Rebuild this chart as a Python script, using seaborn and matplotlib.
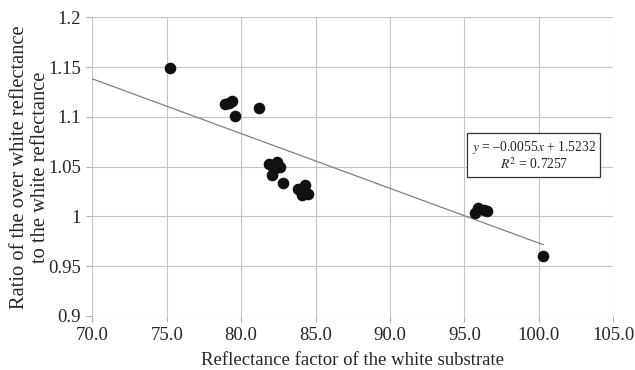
import matplotlib
matplotlib.use("Agg")
import matplotlib.pyplot as plt
import seaborn as sns
import numpy as np
import pandas as pd

reflectance = [75.2, 78.9, 79.2, 79.4, 79.6, 81.2,
               81.9, 82.4, 82.2, 82.6, 82.1, 82.8,
               83.8, 84.3, 84.5, 84.1,
               95.7, 95.9, 96.3, 96.5, 100.3]
ratio = [1.149, 1.113, 1.114, 1.116, 1.101, 1.109,
         1.053, 1.055, 1.048, 1.050, 1.042, 1.034,
         1.028, 1.032, 1.023, 1.022,
         1.003, 1.008, 1.006, 1.005, 0.960]
slope = -0.0055
intercept = 1.5232
r_squared = 0.7257
x_ticks = [70, 75, 80, 85, 90, 95, 100, 105]
y_ticks = [0.9, 0.95, 1.0, 1.05, 1.1, 1.15, 1.2]
y_tick_labels = ["0.9", "0.95", "1", "1.05", "1.1", "1.15", "1.2"]

sns.set_style("white")
plt.rcParams['font.family'] = ['Liberation Serif', 'DejaVu Serif']
plt.rcParams['mathtext.fontset'] = 'stix'

df = pd.DataFrame({"x": reflectance, "y": ratio})

fig = plt.figure(figsize=(6.35, 3.7), dpi=100)
ax = fig.add_axes([92.3/635, 1-316/370, (613.3-92.3)/635, (316-17.3)/370])

ax.set_xlim(70, 105)
ax.set_ylim(0.9, 1.2)
ax.set_xticks(x_ticks)
ax.set_xticklabels([f"{v:.1f}" for v in x_ticks])
ax.set_yticks(y_ticks)
ax.set_yticklabels(y_tick_labels)
ax.grid(True, color="#c4c4c4", linewidth=0.8)
ax.set_axisbelow(True)
for s in ax.spines.values():
    s.set_visible(False)
ax.tick_params(axis="both", length=4, width=0.8, color="#b0b0b0",
               labelsize=13.5, pad=4, direction="out", left=True, bottom=True)

xl = np.array([70, max(reflectance)])
sns.lineplot(x=xl, y=slope*xl+intercept, ax=ax, color="#808080", linewidth=0.9)
sns.scatterplot(data=df, x="x", y="y", ax=ax, s=70, color="#111111",
                edgecolor="#111111", linewidth=0, zorder=3)

ax.set_xlabel("Reflectance factor of the white substrate", fontsize=13.5, labelpad=6)
ax.set_ylabel("Ratio of the over white reflectance\nto the white reflectance",
              fontsize=14.8, linespacing=1.1)
ax.yaxis.label.set_va("center")
ax.yaxis.set_label_coords(-0.1195, 0.497)

ax.text(99.66, 1.061,
        "$y$ = \u20130.0055$x$ + 1.5232\n$R^2$ = 0.7257",
        ha="center", va="center", fontsize=9.8, linespacing=1.05,
        bbox=dict(boxstyle="square,pad=0.3", facecolor="white",
                  edgecolor="#333333", linewidth=0.9))

fig.savefig("out.png", dpi=100)
